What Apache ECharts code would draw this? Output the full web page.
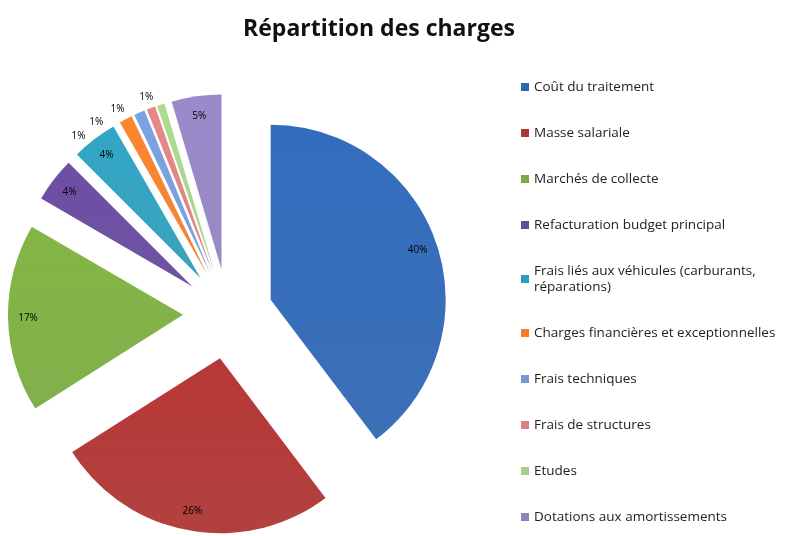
<!DOCTYPE html>
<html><head><meta charset="utf-8">
<script src="https://cdn.jsdelivr.net/npm/echarts@6/dist/echarts.min.js"></script>
<style>html,body{margin:0;padding:0;background:#fff}#c{width:795px;height:536px}</style>
</head><body><div id="c"></div>
<script>
const categories = [
  "Coût du traitement",
  "Masse salariale",
  "Marchés de collecte",
  "Refacturation budget principal",
  "Frais liés aux véhicules (carburants,\nréparations)",
  "Charges financières et exceptionnelles",
  "Frais techniques",
  "Frais de structures",
  "Etudes",
  "Dotations aux amortissements"
];
const values = [39.7, 26.3, 17.4, 4.1, 4.2, 1.2, 1.0, 0.8, 0.7, 4.6];
const colors = ["#3067B3","#AD3533","#7BAC41","#664A9C","#2F9DBB","#EF7E2C","#7499D6","#D8817F","#A3CF86","#9283C0"];
const title = "Répartition des charges";

const chart = echarts.init(document.getElementById('c'));
const center = [228, 314];
const offset = 45;
const mainData = categories.map((n, i) => ({
  name: n, value: values[i], selected: true,
  itemStyle: { color: new echarts.graphic.LinearGradient(0, 0, 0, 1, [
    { offset: 0, color: echarts.color.lift(colors[i], -0.06) },
    { offset: 1, color: echarts.color.lift(colors[i], 0.06) }
  ]) }
}));
const labelData = categories.map((n, i) => ({
  name: n, value: values[i], selected: true,
  label: values[i] < 2 ? { position: 'outside' } : { position: 'inside' }
}));
chart.setOption({
  animation: false,
  title: { text: title, left: 374, textAlign: 'center', top: 13,
    textStyle: { fontFamily: 'Open Sans', fontWeight: 'bold', fontSize: 23, color: '#111' } },
  legend: {
    orient: 'vertical', left: 516, top: 74, bottom: 0, itemWidth: 8, itemHeight: 8, itemGap: 30,
    icon: 'rect', selectedMode: false, padding: [5, 0, 0, 5],
    textStyle: { fontFamily: 'Open Sans', fontSize: 13.5, color: '#222', lineHeight: 16 },
    data: categories.map((n, i) => ({ name: n, itemStyle: { color: colors[i] } }))
  },
  series: [
    {
      type: 'pie', center: center, radius: [0, 175], startAngle: 90, clockwise: true,
      selectedMode: 'multiple', selectedOffset: offset,
      label: { show: false }, labelLine: { show: false },
      select: { itemStyle: { borderWidth: 0 } },
      emphasis: { disabled: true },
      data: mainData
    },
    {
      type: 'pie', center: center, radius: [129, 175], startAngle: 90, clockwise: true,
      selectedMode: 'multiple', selectedOffset: offset, silent: true,
      itemStyle: { color: 'rgba(0,0,0,0)' },
      select: { itemStyle: { color: 'rgba(0,0,0,0)', borderWidth: 0 } },
      emphasis: { disabled: true },
      label: { show: true, formatter: '{d}%', fontFamily: 'Open Sans', fontSize: 10, color: '#000' },
      labelLine: { show: false, length: 8, length2: 0 },
      percentPrecision: 0,
      data: labelData
    }
  ]
});
</script></body></html>
